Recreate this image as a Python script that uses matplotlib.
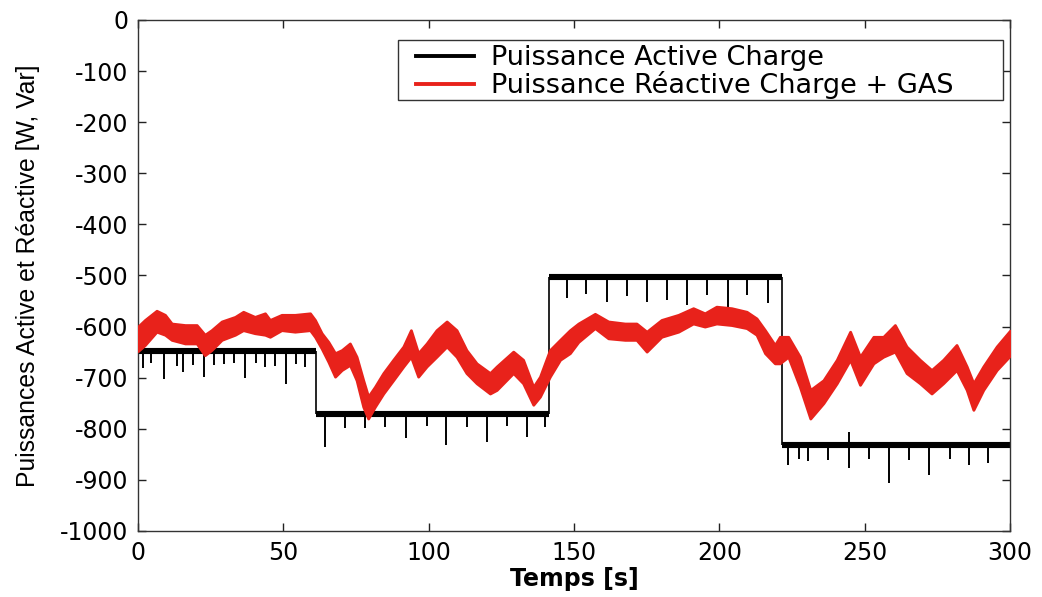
import bisect

import matplotlib
matplotlib.use("Agg")
import matplotlib.pyplot as plt
from matplotlib.patches import Rectangle

plt.rcParams["axes.unicode_minus"] = False

# ---- active power of the load: piecewise-constant levels [W] ----
step_edges = [0, 61.3, 141.5, 221.7, 300]
active_levels = [-648, -772, -503, -832]

# short glitches on the active power trace: time [s] and extreme value [W]
spike_t = [1.8, 4.5, 9.0, 13.5, 15.6, 19.0, 22.7, 26.0, 29.7, 33.0, 36.8, 40.5,
           43.7, 47.1, 50.9, 54.5, 57.4,
           64.3, 71.2, 78.1, 85.0, 92.2, 99.4, 106.0, 113.2, 120.0, 127.0, 133.8, 140.0,
           147.5, 154.3, 161.4, 168.1, 175.2, 181.9, 189.0, 195.6, 203.1, 209.5, 216.6,
           223.7, 227.4, 230.5, 237.4, 244.6, 244.6, 251.5, 258.3, 265.2, 272.1, 279.3,
           285.8, 292.4]
spike_v = [-681, -672, -703, -678, -689, -676, -698, -675, -673, -672, -701, -672,
           -680, -678, -713, -673, -680,
           -835, -799, -799, -797, -818, -795, -832, -797, -826, -795, -816, -797,
           -545, -536, -551, -540, -551, -548, -558, -538, -562, -538, -553,
           -871, -860, -863, -862, -877, -806, -860, -906, -862, -890, -860,
           -871, -867]

# ---- reactive power (load + GAS): upper and lower envelope of the trace [Var] ----
react_t = [0, 2.4, 6.4, 9.3, 11.6, 16.2, 20.2, 23.0, 25.3, 28.8, 33.4, 36.2, 40.2,
           43.7, 45.4, 49.4, 54.0, 59.2, 60.9, 63.2, 65.5, 67.8, 70.1, 72.9, 75.2,
           77.5, 79.2, 81.5, 84.4, 87.8, 91.3, 93.9, 96.4, 99.3, 102.7, 106.2, 109.6,
           113.0, 116.5, 121.1, 123.4, 129.1, 132.5, 136.0, 138.3, 141.7, 145.2, 148.6,
           151.5, 157.2, 161.8, 167.5, 171.5, 175.0, 180.1, 185.9, 191.0, 195.0, 199.0,
           204.2, 209.4, 212.8, 215.7, 219.1, 220.8, 223.7, 227.7, 231.3, 235.8, 240.4,
           245.0, 248.4, 253.0, 256.4, 260.4, 264.4, 269.0, 273.0, 277.0, 281.6, 285.1,
           287.4, 290.8, 295.4, 300]
react_hi = [-600, -587, -569, -577, -594, -597, -597, -616, -607, -590, -581, -571, -581,
            -574, -587, -577, -577, -574, -587, -613, -630, -652, -646, -633, -659,
            -705, -737, -718, -691, -665, -639, -607, -652, -633, -607, -590, -607,
            -646, -672, -691, -678, -649, -665, -718, -698, -646, -626, -607,
            -594, -575, -590, -594, -594, -610, -587, -577, -564, -574, -561,
            -564, -571, -584, -607, -636, -620, -620, -659, -724, -705, -665,
            -610, -659, -620, -620, -597, -639, -665, -685, -665, -636, -678,
            -711, -678, -639, -608]
react_lo = [-648, -636, -610, -616, -626, -633, -633, -656, -646, -626, -616, -607, -613,
            -616, -620, -607, -610, -607, -620, -643, -669, -698, -685, -675, -705,
            -757, -780, -757, -731, -705, -678, -659, -698, -678, -659, -639, -659,
            -691, -711, -731, -724, -691, -711, -753, -737, -698, -665, -652,
            -630, -603, -623, -626, -626, -649, -620, -610, -594, -600, -594,
            -597, -603, -616, -652, -672, -672, -659, -718, -780, -750, -711,
            -665, -714, -672, -659, -649, -691, -711, -731, -711, -685, -724,
            -763, -724, -685, -657]

x_ticks = [0, 50, 100, 150, 200, 250, 300]
y_ticks = [0, -100, -200, -300, -400, -500, -600, -700, -800, -900, -1000]

RED = "#e8221b"
TXT = "DejaVu Sans"
FRAME = "#333333"

fig = plt.figure(figsize=(10.42, 5.97), dpi=100)
ax = fig.add_axes([0.1324, 0.1106, 0.8369, 0.8559])

# active power: thick noisy levels, thin transitions, glitches
ax.hlines(active_levels, step_edges[:-1], step_edges[1:], color="black", lw=4.4,
          zorder=2)
ax.vlines(step_edges[1:-1], active_levels[:-1], active_levels[1:], color="black",
          lw=1.2, zorder=2)
spike_base = [active_levels[min(bisect.bisect_right(step_edges, t) - 1,
                                len(active_levels) - 1)] for t in spike_t]
ax.vlines(spike_t, spike_base, spike_v, color="black", lw=1.4, zorder=2)

# reactive power band
ax.fill_between(react_t, react_lo, react_hi, color=RED, lw=2.0, edgecolor=RED,
                zorder=3)

# legend handles
ax.plot([], [], color="black", lw=2.8, label="Puissance Active Charge")
ax.plot([], [], color=RED, lw=2.8, label="Puissance Réactive Charge + GAS")

ax.set_xlim(0, 300)
ax.set_ylim(-1000, 0)
ax.set_xticks(x_ticks)
ax.set_yticks(y_ticks)
ax.tick_params(direction="in", length=6, width=1, top=True, right=True,
               labelsize=17, pad=7, colors="#222222", labelcolor="black")
for lab in ax.get_xticklabels() + ax.get_yticklabels():
    lab.set_family(TXT)
for sp in ax.spines.values():
    sp.set_color(FRAME)
    sp.set_linewidth(1.0)

ax.set_xlabel("Temps [s]", fontsize=17, fontweight="bold", family=TXT, labelpad=2)
ax.set_ylabel("Puissances Active et Réactive [W, Var]", fontsize=17.8,
              family="Liberation Sans")
ax.yaxis.set_label_coords(-0.112, 0.5)

# legend: fixed frame, entries placed inside it
ax.add_patch(Rectangle((0.298, 0.843), 0.694, 0.118, transform=ax.transAxes,
                       facecolor="white", edgecolor=FRAME, lw=1.0, zorder=5))
leg = ax.legend(loc="upper left", bbox_to_anchor=(0.3188, 0.951), frameon=False,
                prop={"family": TXT, "size": 19.5}, handlelength=2.15,
                handletextpad=0.63, labelspacing=0.0, borderpad=0.0,
                borderaxespad=0)
leg.set_zorder(6)

fig.savefig("out.png", dpi=100)
